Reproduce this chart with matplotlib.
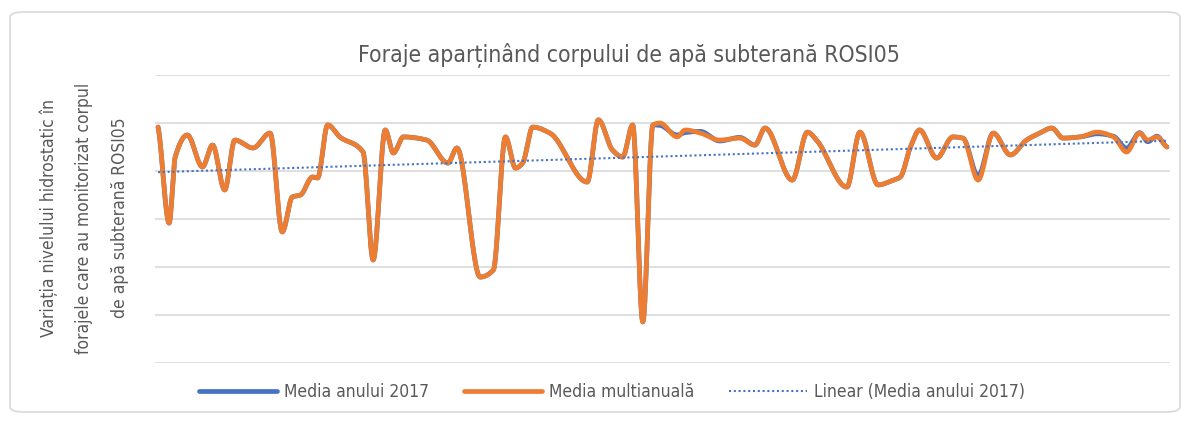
import numpy as np
import matplotlib
matplotlib.use("Agg")
import matplotlib.pyplot as plt
from matplotlib.patches import FancyBboxPatch

plt.rcParams['font.family'] = ['DejaVu Sans']
plt.rcParams['font.stretch'] = 'condensed'

title = "Foraje aparținând corpului de apă subterană ROSI05"
ylabel = "Variația nivelului hidrostatic în\nforajele care au monitorizat corpul\nde apă subterană ROSI05"
series_names = ["Media anului 2017", "Media multianuală", "Linear (Media anului 2017)"]

# well position (index along the chart) and levels (m)
pos = [0.0, 1.1, 1.7, 2.9, 4.4, 5.4, 6.6, 7.6, 9.4, 11.1, 12.3, 13.3, 14.1, 15.3, 15.8,
       16.8, 18.0, 20.3, 21.3, 22.5, 23.3, 24.3, 26.6, 28.7, 29.6, 31.9, 33.2, 34.4, 35.4,
       36.1, 37.1, 38.8, 42.5, 43.6, 45.0, 46.0, 47.0, 48.0, 49.0, 49.7, 51.4, 52.2, 53.7,
       55.6, 57.6, 59.1, 60.1, 62.8, 64.3, 65.2, 68.2, 69.5, 71.3, 72.8, 73.5, 74.5, 75.4,
       77.1, 78.7, 79.7, 81.2, 82.7, 84.4, 86.0, 87.3, 88.5, 89.6, 91.3, 93.0, 94.6, 95.9,
       97.2, 98.0, 98.9, 99.9]
multi = [-0.17, -4.17, -1.42, -0.50, -1.83, -0.92, -2.79, -0.71, -1.04, -0.42, -4.54, -3.08,
         -3.00, -2.25, -2.29, -0.08, -0.58, -1.21, -5.71, -0.29, -1.25, -0.58, -0.71, -1.67,
         -1.04, -6.42, -6.13, -0.58, -1.88, -1.67, -0.17, -0.42, -2.46, 0.13, -1.13, -1.42,
         -0.08, -8.29, -0.08, 0.00, -0.58, -0.29, -0.42, -0.71, -0.63, -0.92, -0.21, -2.38,
         -0.38, -0.71, -2.67, -0.38, -2.58, -2.38, -2.25, -1.00, -0.29, -1.46, -0.58, -0.63,
         -2.38, -0.42, -1.33, -0.71, -0.42, -0.21, -0.63, -0.58, -0.38, -0.58, -1.21, -0.42,
         -0.71, -0.58, -1.00]
an2017 = [-0.17, -4.17, -1.42, -0.50, -1.83, -0.92, -2.79, -0.71, -1.04, -0.42, -4.54, -3.08,
          -3.00, -2.25, -2.29, -0.08, -0.58, -1.21, -5.71, -0.29, -1.25, -0.58, -0.71, -1.67,
          -1.04, -6.42, -6.13, -0.58, -1.88, -1.67, -0.17, -0.42, -2.46, 0.13, -1.13, -1.42,
          -0.08, -8.29, -0.08, -0.10, -0.50, -0.40, -0.35, -0.75, -0.60, -0.92, -0.21, -2.38,
          -0.38, -0.71, -2.67, -0.38, -2.58, -2.38, -2.25, -1.00, -0.29, -1.46, -0.58, -0.63,
          -2.20, -0.42, -1.33, -0.71, -0.42, -0.21, -0.63, -0.58, -0.45, -0.55, -1.05, -0.40,
          -0.78, -0.55, -1.00]


def pchip_curve(x, y, n=25):
    """Monotone cubic (Fritsch-Carlson) curve through the points, for a smooth line."""
    x = np.asarray(x, float); y = np.asarray(y, float)
    h = np.diff(x); d = np.diff(y) / h
    m = np.zeros_like(y)
    for k in range(1, len(y) - 1):
        if d[k - 1] * d[k] > 0:
            w1 = 2 * h[k] + h[k - 1]; w2 = h[k] + 2 * h[k - 1]
            m[k] = (w1 + w2) / (w1 / d[k - 1] + w2 / d[k])
    m[0] = d[0] * 0.5; m[-1] = d[-1] * 0.5
    xs, ys = [], []
    for k in range(len(h)):
        t = np.linspace(0, 1, n, endpoint=False)
        h00 = 2 * t**3 - 3 * t**2 + 1; h10 = t**3 - 2 * t**2 + t
        h01 = -2 * t**3 + 3 * t**2; h11 = t**3 - t**2
        xs.append(x[k] + t * h[k])
        ys.append(h00 * y[k] + h10 * h[k] * m[k] + h01 * y[k + 1] + h11 * h[k] * m[k + 1])
    xs.append([x[-1]]); ys.append([y[-1]])
    return np.concatenate(xs), np.concatenate(ys)


W, H = 1187, 421
fig = plt.figure(figsize=(W / 100, H / 100), dpi=100)
fig.patches.append(FancyBboxPatch((10 / W, 9 / H), 1170 / W, 400 / H,
                                  boxstyle="round,pad=0,rounding_size=0.012",
                                  transform=fig.transFigure, facecolor='none',
                                  edgecolor='#d9d9d9', linewidth=1.2, zorder=-1))
ax = fig.add_axes([155 / W, 1 - 363 / H, (1170 - 155) / W, (363 - 75) / H])
ax.set_facecolor('none')
ax.set_xlim(-0.3, 100.2)
ax.set_ylim(-10, 2)
ax.set_yticks(np.arange(-10, 2.1, 2))
ax.set_xticks([])
ax.tick_params(left=False, labelleft=False)
ax.grid(axis='y', color='#d9d9d9', linewidth=1.2)
for s in ax.spines.values():
    s.set_visible(False)

bx, by = pchip_curve(pos, an2017)
mx, my = pchip_curve(pos, multi)
ax.plot(bx, by, color='#4472C4', lw=3.4, label=series_names[0], solid_capstyle='round')
ax.plot(mx, my, color='#ED7D31', lw=3.4, label=series_names[1], solid_capstyle='round')
coef = np.polyfit(pos, an2017, 1)
xt = np.array([pos[0], pos[-1]])
ax.plot(xt, np.polyval(coef, xt), color='#4472C4', lw=1.5, ls=(0, (1, 1.3)), label=series_names[2])

fig.text(629 / W, 1 - 56 / H, title, ha='center', va='center', fontsize=16.5, color='#595959')
fig.text(84 / W, 1 - 218 / H, ylabel, rotation=90, ha='center', va='center',
         fontsize=12.5, color='#595959', linespacing=2.25, multialignment='center')
leg = fig.legend(loc='center', bbox_to_anchor=(612 / W, 1 - 392 / H), ncol=3, frameon=False,
                 fontsize=12.5, handlelength=4.5, columnspacing=2.0, handletextpad=0.4)
for t in leg.get_texts():
    t.set_color('#595959')
fig.savefig('out.png', dpi=100)
